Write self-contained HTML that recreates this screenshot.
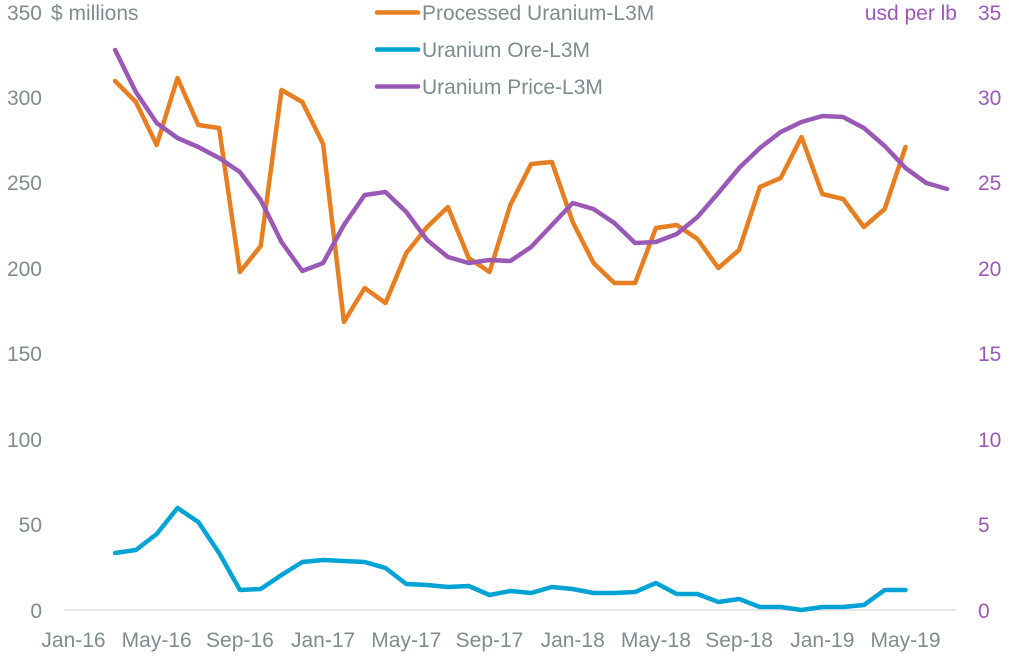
<!DOCTYPE html>
<html>
<head>
<meta charset="utf-8">
<style>
html,body{margin:0;padding:0;background:#fff;}
svg{display:block;}
text{font-family:"Liberation Sans",Arial,sans-serif;font-size:21px;}
.g{fill:#7f8c8d;}
.p{fill:#9b59b6;}
</style>
</head>
<body>
<svg width="1009" height="659" viewBox="0 0 1009 659" xmlns="http://www.w3.org/2000/svg">
<rect x="0" y="0" width="1009" height="659" fill="#fff"/>
<!-- baseline -->
<line x1="64" y1="610" x2="956" y2="610" stroke="#e6e6e6" stroke-width="2"/>

<!-- left axis labels -->
<g class="g" text-anchor="end">
<text x="42" y="618">0</text>
<text x="42" y="532">50</text>
<text x="42" y="447">100</text>
<text x="42" y="361">150</text>
<text x="42" y="276">200</text>
<text x="42" y="190">250</text>
<text x="42" y="105">300</text>
<text x="42" y="20">350</text>
</g>
<text class="g" x="51" y="20">$ millions</text>

<!-- right axis labels -->
<g class="p">
<text x="978" y="618">0</text>
<text x="978" y="532">5</text>
<text x="978" y="447">10</text>
<text x="978" y="361">15</text>
<text x="978" y="276">20</text>
<text x="978" y="190">25</text>
<text x="978" y="105">30</text>
<text x="978" y="20">35</text>
</g>
<text class="p" x="957" y="20" text-anchor="end">usd per lb</text>

<!-- x labels -->
<g class="g" text-anchor="middle">
<text x="73.5" y="647">Jan-16</text>
<text x="156.7" y="647">May-16</text>
<text x="239.9" y="647">Sep-16</text>
<text x="323.1" y="647">Jan-17</text>
<text x="406.3" y="647">May-17</text>
<text x="489.5" y="647">Sep-17</text>
<text x="572.7" y="647">Jan-18</text>
<text x="655.9" y="647">May-18</text>
<text x="739.1" y="647">Sep-18</text>
<text x="822.3" y="647">Jan-19</text>
<text x="905.5" y="647">May-19</text>
</g>

<!-- legend -->
<g stroke-width="4.5" stroke-linecap="round">
<line x1="377" y1="12.5" x2="418" y2="12.5" stroke="#e67e22"/>
<line x1="377" y1="49.5" x2="418" y2="49.5" stroke="#00a3d3"/>
<line x1="377" y1="86.5" x2="418" y2="86.5" stroke="#9b59b6"/>
</g>
<g class="g">
<text x="422" y="20">Processed Uranium-L3M</text>
<text x="422" y="57">Uranium Ore-L3M</text>
<text x="422" y="94">Uranium Price-L3M</text>
</g>

<!-- series -->
<g fill="none" stroke-width="4.5" stroke-linejoin="round" stroke-linecap="round">
<polyline stroke="#00a3d3" points="115.1,553 135.9,550 156.7,534 177.5,508 198.3,522 219.1,553 239.9,590 260.7,589 281.5,575 302.3,562 323.1,560 343.9,561 364.7,562 385.5,568 406.3,584 427.1,585 447.9,587 468.7,586 489.5,595 510.3,591 531.1,593 551.9,587 572.7,589 593.5,593 614.3,593 635.1,592 655.9,583 676.7,594 697.5,594 718.3,602 739.1,599 759.9,607 780.7,607 801.5,610 822.3,607 843.1,607 863.9,605 884.7,590 905.5,590"/>
<polyline stroke="#e67e22" points="115.1,81 135.9,102 156.7,145 177.5,78 198.3,125 219.1,128 239.9,272 260.7,246 281.5,90 302.3,102 323.1,144 343.9,322 364.7,288 385.5,303 406.3,253 427.1,227 447.9,207 468.7,258 489.5,272 510.3,205 531.1,164 551.9,162 572.7,222 593.5,263 614.3,283 635.1,283 655.9,228 676.7,225 697.5,239 718.3,268 739.1,250 759.9,187 780.7,178 801.5,137 822.3,194 843.1,199 863.9,227 884.7,209 905.5,147"/>
<polyline stroke="#9b59b6" points="115.1,50 135.9,92 156.7,123 177.5,138 198.3,147 219.1,158 239.9,172 260.7,200 281.5,242 302.3,271 323.1,263 343.9,225 364.7,195 385.5,192 406.3,212 427.1,240 447.9,257 468.7,263 489.5,260 510.3,261 531.1,247 551.9,225 572.7,203 593.5,209 614.3,223 635.1,243 655.9,242 676.7,234 697.5,217 718.3,193 739.1,168 759.9,148 780.7,132 801.5,122 822.3,116 843.1,117 863.9,128 884.7,146 905.5,168 926.3,183 947.1,189"/>
</g>
</svg>
</body>
</html>
